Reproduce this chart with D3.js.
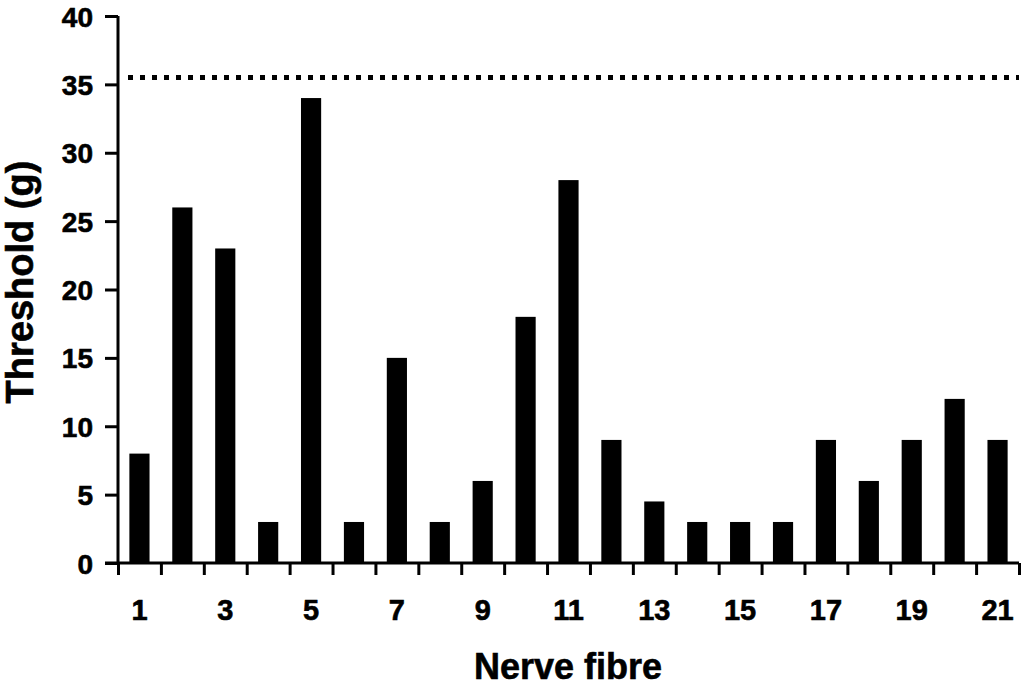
<!DOCTYPE html>
<html>
  <head>
    <meta charset="utf-8">
    <script src="https://d3js.org/d3.v7.min.js"></script>
    <style>
      body { margin: 0; background: white; }
      svg text { font-family: "Liberation Sans", Arial, sans-serif; font-weight: bold; fill: black; stroke: black; stroke-width: 0.6px; }
    </style>
  </head>
  <body>
    <div id="chart"></div>
    <script>
        // data
        var fibres = d3.range(1, 22)
        var thresholds = [8, 26, 23, 3, 34, 3, 15, 3, 6, 18, 28, 9, 4.5, 3, 3, 3, 9, 6, 9, 12, 9]
        var cutoff = 35.5
        var yTicks = [0, 5, 10, 15, 20, 25, 30, 35, 40]

        var width = 1027, height = 686
        var plotLeft = 118, plotRight = 1019, plotTop = 16, plotBottom = 563

        var svg = d3.select("#chart").append("svg")
            .attr("width", width)
            .attr("height", height)

        var x = d3.scaleBand().domain(fibres).range([plotLeft, plotRight]).padding(0)
        var xEdge = d3.scaleLinear().domain([0, fibres.length]).range([plotLeft, plotRight])
        var y = d3.scaleLinear().domain([0, 40]).range([plotBottom, plotTop])

        // bars
        var bw = x.bandwidth() * 0.47
        svg.append("g").selectAll("rect")
            .data(thresholds)
            .enter().append("rect")
            .attr("x", function(d, i){ return x(fibres[i]) + (x.bandwidth() - bw) / 2 })
            .attr("y", function(d){ return y(d) })
            .attr("width", bw)
            .attr("height", function(d){ return y(0) - y(d) })
            .attr("fill", "black")

        // dotted line
        svg.append("line")
            .attr("x1", plotLeft + 10).attr("x2", plotRight)
            .attr("y1", y(cutoff)).attr("y2", y(cutoff))
            .attr("stroke", "black")
            .attr("stroke-width", 5)
            .attr("stroke-dasharray", "5,7")

        // y axis
        var yAxis = svg.append("g")
            .attr("transform", "translate(" + plotLeft + ",0)")
            .call(d3.axisLeft(y).tickValues(yTicks).tickSize(13).tickPadding(12))
        yAxis.select(".domain").attr("stroke-width", 3).attr("d", "M0," + plotTop + "V" + plotBottom)
        yAxis.selectAll(".tick line").attr("stroke-width", 3)
        yAxis.selectAll("text").style("font-size", "28px").attr("dy", "0.36em")

        // x axis: boundary ticks
        var xAxis = svg.append("g")
            .attr("transform", "translate(0," + plotBottom + ")")
            .call(d3.axisBottom(xEdge).tickValues(d3.range(0, fibres.length + 1)).tickSize(12).tickFormat(""))
        xAxis.select(".domain").attr("stroke-width", 3).attr("d", "M" + (plotLeft - 13) + ",0H" + plotRight)
        xAxis.selectAll(".tick line").attr("stroke-width", 3)

        // x labels on odd fibres
        var xLab = svg.append("g")
            .attr("transform", "translate(0," + plotBottom + ")")
            .call(d3.axisBottom(x).tickSize(0).tickPadding(36)
                .tickFormat(function(d){ return d % 2 ? d : "" }))
        xLab.select(".domain").remove()
        xLab.selectAll("text").style("font-size", "29px")

        // titles
        svg.append("text")
            .attr("x", 568).attr("y", 679)
            .attr("text-anchor", "middle")
            .style("font-size", "36px")
            .text("Nerve fibre")

        svg.append("text")
            .attr("transform", "translate(33,282) rotate(-90)")
            .attr("text-anchor", "middle")
            .style("font-size", "38px")
            .text("Threshold (g)")
    </script>
  </body>
</html>
